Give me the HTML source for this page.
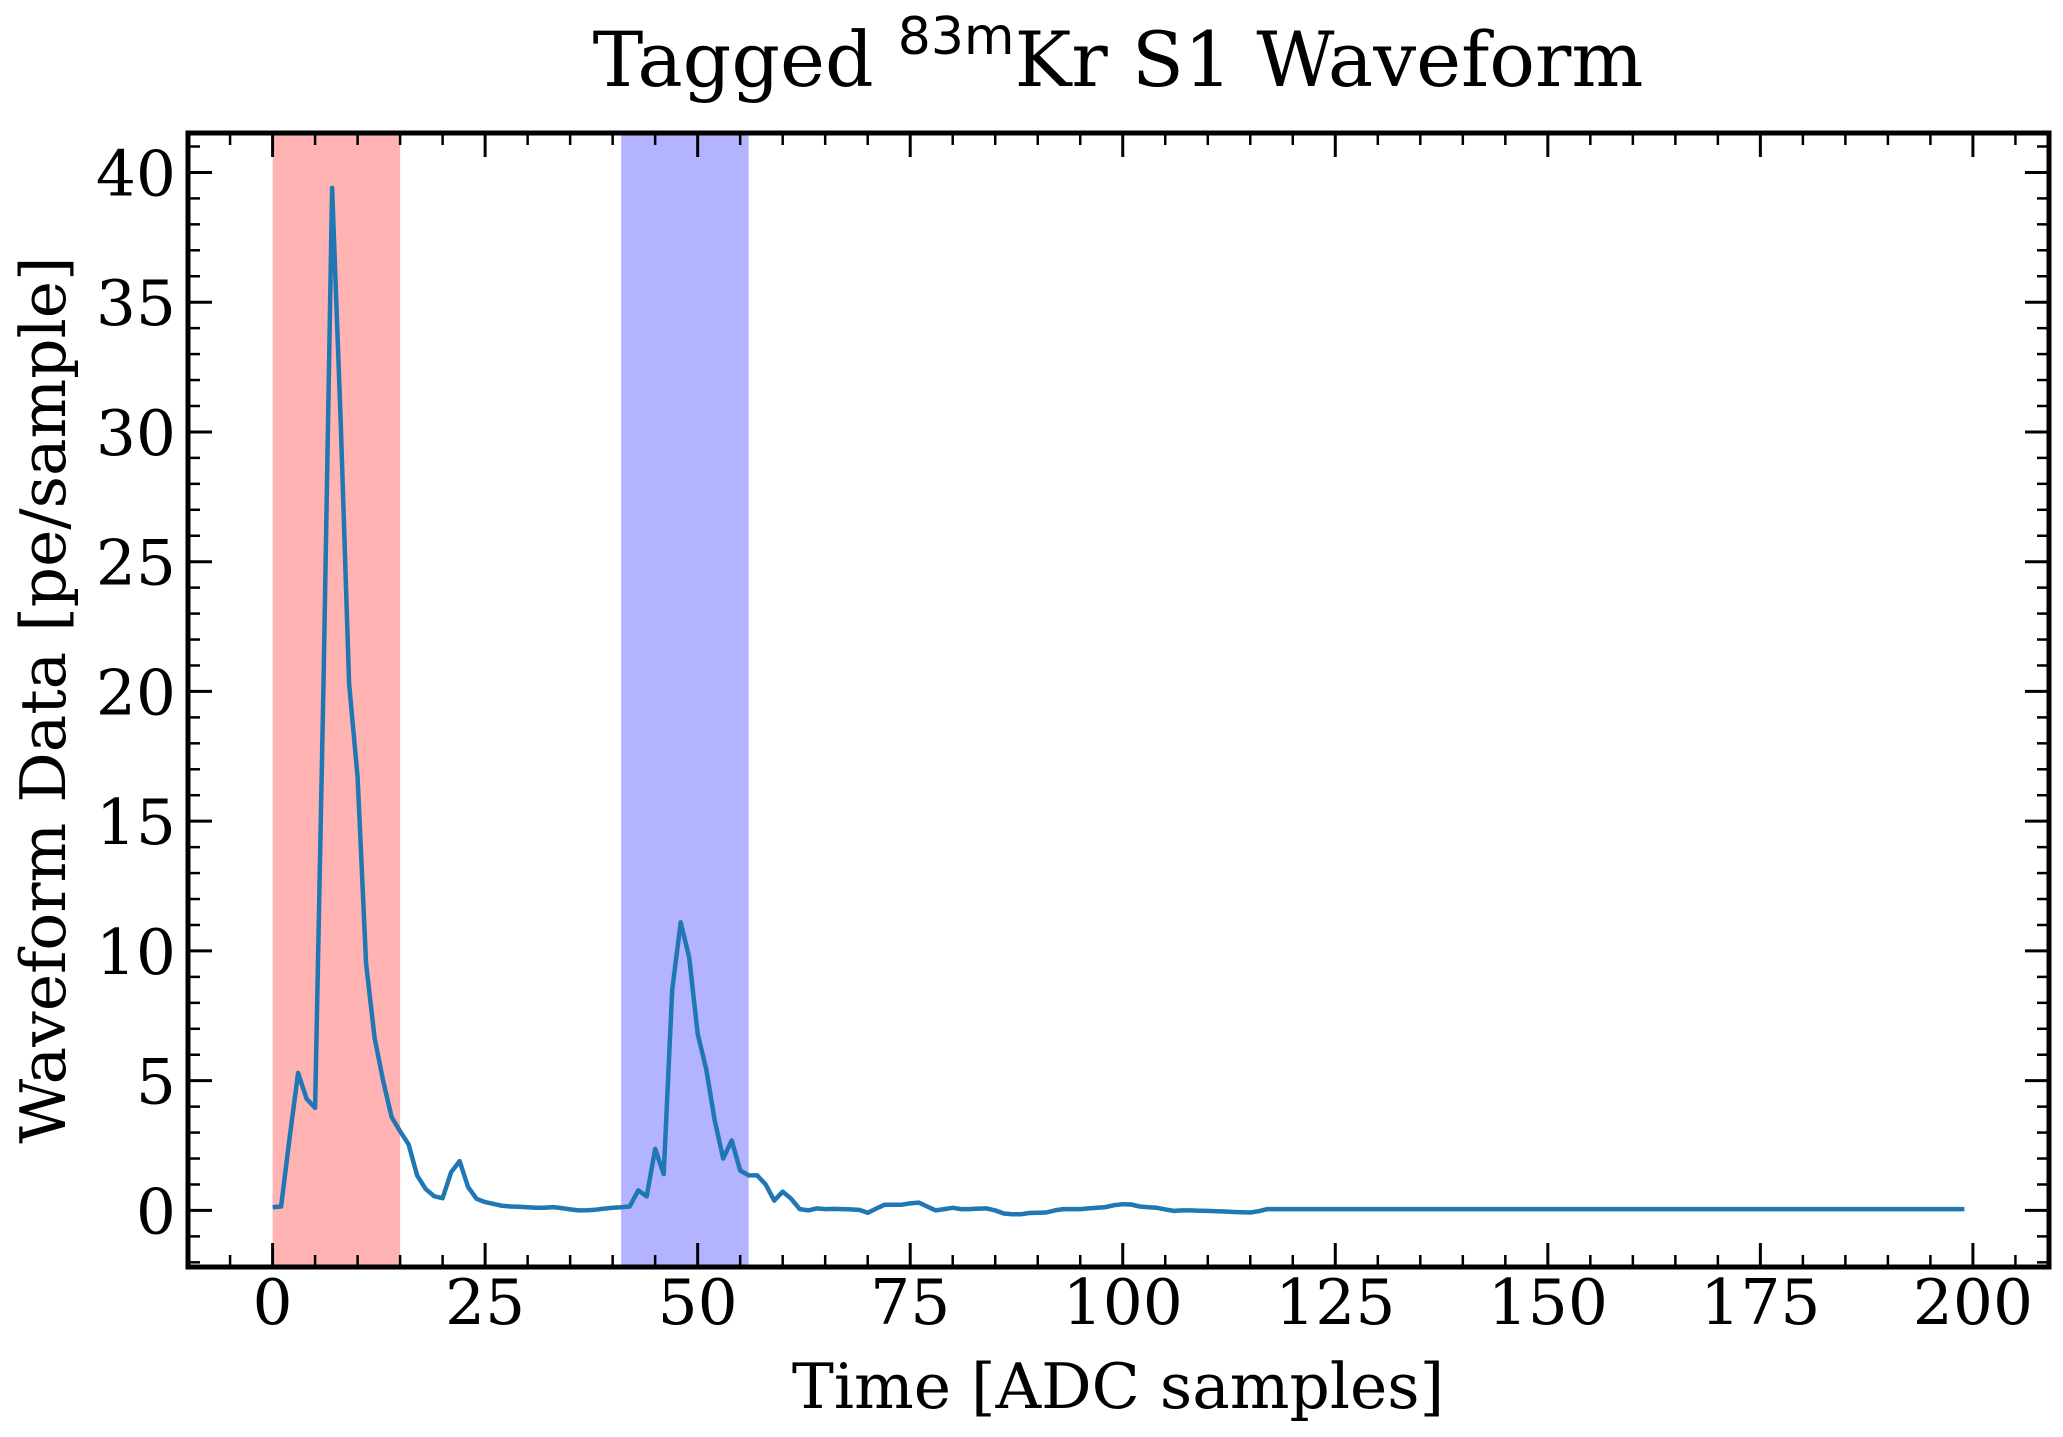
<!DOCTYPE html>
<html><head><meta charset="utf-8"><style>
html,body{margin:0;padding:0;background:#fff;}
svg{display:block;font-family:"DejaVu Serif","Liberation Serif",serif;}
</style></head><body>
<svg id="chart" width="2063" height="1437" viewBox="0 0 2063 1437" xmlns="http://www.w3.org/2000/svg">
<rect width="2063" height="1437" fill="#fff"/>
<g id="spans"></g>
<g id="series"></g>
<g id="ticks"></g>
<rect x="188" y="133" width="1861" height="1134" fill="none" stroke="#000" stroke-width="5"/>
<text x="1118" y="86" text-anchor="middle" font-size="76">Tagged <tspan font-size="52" dy="-32" font-family="DejaVu Sans, sans-serif">83m</tspan><tspan dy="32">Kr S1 Waveform</tspan></text>
<text x="1118" y="1408" text-anchor="middle" font-size="63">Time [ADC samples]</text>
<text transform="translate(65,700) rotate(-90)" text-anchor="middle" font-size="63">Waveform Data [pe/sample]</text>
</svg>
<script>
const waveform = [0.12,0.15,2.8,5.3,4.3,3.95,20.5,39.4,30.5,20.3,16.7,9.5,6.65,5.0,3.6,3.05,2.55,1.35,0.83,0.55,
0.47,1.47,1.9,0.9,0.45,0.32,0.25,0.18,0.15,0.14,0.12,0.1,0.1,0.13,0.09,0.04,0.0,0.01,0.03,0.07,
0.1,0.12,0.15,0.77,0.54,2.37,1.4,8.5,11.1,9.75,6.8,5.45,3.47,2.0,2.7,1.54,1.35,1.35,1.0,0.38,
0.72,0.45,0.05,0.0,0.08,0.05,0.06,0.05,0.04,0.02,-0.09,0.07,0.22,0.22,0.22,0.27,0.3,0.15,0.0,0.05,
0.1,0.05,0.05,0.07,0.08,0.0,-0.12,-0.15,-0.15,-0.1,-0.09,-0.08,0.0,0.05,0.05,0.05,0.08,0.1,0.13,0.2,
0.24,0.23,0.15,0.12,0.1,0.04,-0.02,0.0,0.0,-0.01,-0.02,-0.03,-0.04,-0.06,-0.07,-0.08,-0.03,0.05,0.05,0.05,
0.05,0.05,0.05,0.05,0.05,0.05,0.05,0.05,0.05,0.05,0.05,0.05,0.05,0.05,0.05,0.05,0.05,0.05,0.05,0.05,
0.05,0.05,0.05,0.05,0.05,0.05,0.05,0.05,0.05,0.05,0.05,0.05,0.05,0.05,0.05,0.05,0.05,0.05,0.05,0.05,
0.05,0.05,0.05,0.05,0.05,0.05,0.05,0.05,0.05,0.05,0.05,0.05,0.05,0.05,0.05,0.05,0.05,0.05,0.05,0.05,
0.05,0.05,0.05,0.05,0.05,0.05,0.05,0.05,0.05,0.05,0.05,0.05,0.05,0.05,0.05,0.05,0.05,0.05,0.05,0.05];
const s1Window = [0, 15];
const s2Window = [41, 56];
const xTicks = [0,25,50,75,100,125,150,175,200];
const yTicks = [0,5,10,15,20,25,30,35,40];

const NS='http://www.w3.org/2000/svg';
const L=188,R=2049,T=133,B=1267;
const X0=-9.95,X1=208.95,Y0=-2.18,Y1=41.52;
const sx=v=>L+(v-X0)/(X1-X0)*(R-L);
const sy=v=>B-(v-Y0)/(Y1-Y0)*(B-T);
function mk(tag,attrs,parent){const e=document.createElementNS(NS,tag);for(const k in attrs)e.setAttribute(k,attrs[k]);parent.appendChild(e);return e;}

const spans=document.getElementById('spans');
const r1=mk('rect',{x:sx(s1Window[0]),y:T,width:sx(s1Window[1])-sx(s1Window[0]),height:B-T,fill:'#ffb3b3'},spans);


const r2=mk('rect',{x:sx(s2Window[0]),y:T,width:sx(s2Window[1])-sx(s2Window[0]),height:B-T,fill:'#b3b3ff'},spans);



const pts=waveform.map((v,i)=>sx(i).toFixed(1)+','+sy(v).toFixed(1)).join(' ');
const line=mk('polyline',{points:pts,fill:'none',stroke:'#1f77b4','stroke-width':4.5,'stroke-linejoin':'round'},document.getElementById('series'));



const tg=document.getElementById('ticks');
function tick(x1,y1,x2,y2,w){mk('line',{x1,y1,x2,y2,stroke:'#000','stroke-width':w},tg);}
for(let v=-5;v<=205;v+=5){const x=sx(v);const major=v%25===0;const len=major?24:12;
  tick(x,B,x,B-len,major?3:2.5);tick(x,T,x,T+len,major?3:2.5);}
for(let v=-2;v<=41;v+=1){const y=sy(v);const major=v%5===0;const len=major?24:12;
  tick(L,y,L+len,y,major?3:2.5);tick(R,y,R-len,y,major?3:2.5);}
xTicks.forEach(v=>{const t=mk('text',{x:sx(v),y:1324,'text-anchor':'middle','font-size':63},tg);t.textContent=v;
  
  });
yTicks.forEach(v=>{const t=mk('text',{x:176,y:sy(v)+23,'text-anchor':'end','font-size':63},tg);t.textContent=v;
  
  });
</script>
</body></html>
